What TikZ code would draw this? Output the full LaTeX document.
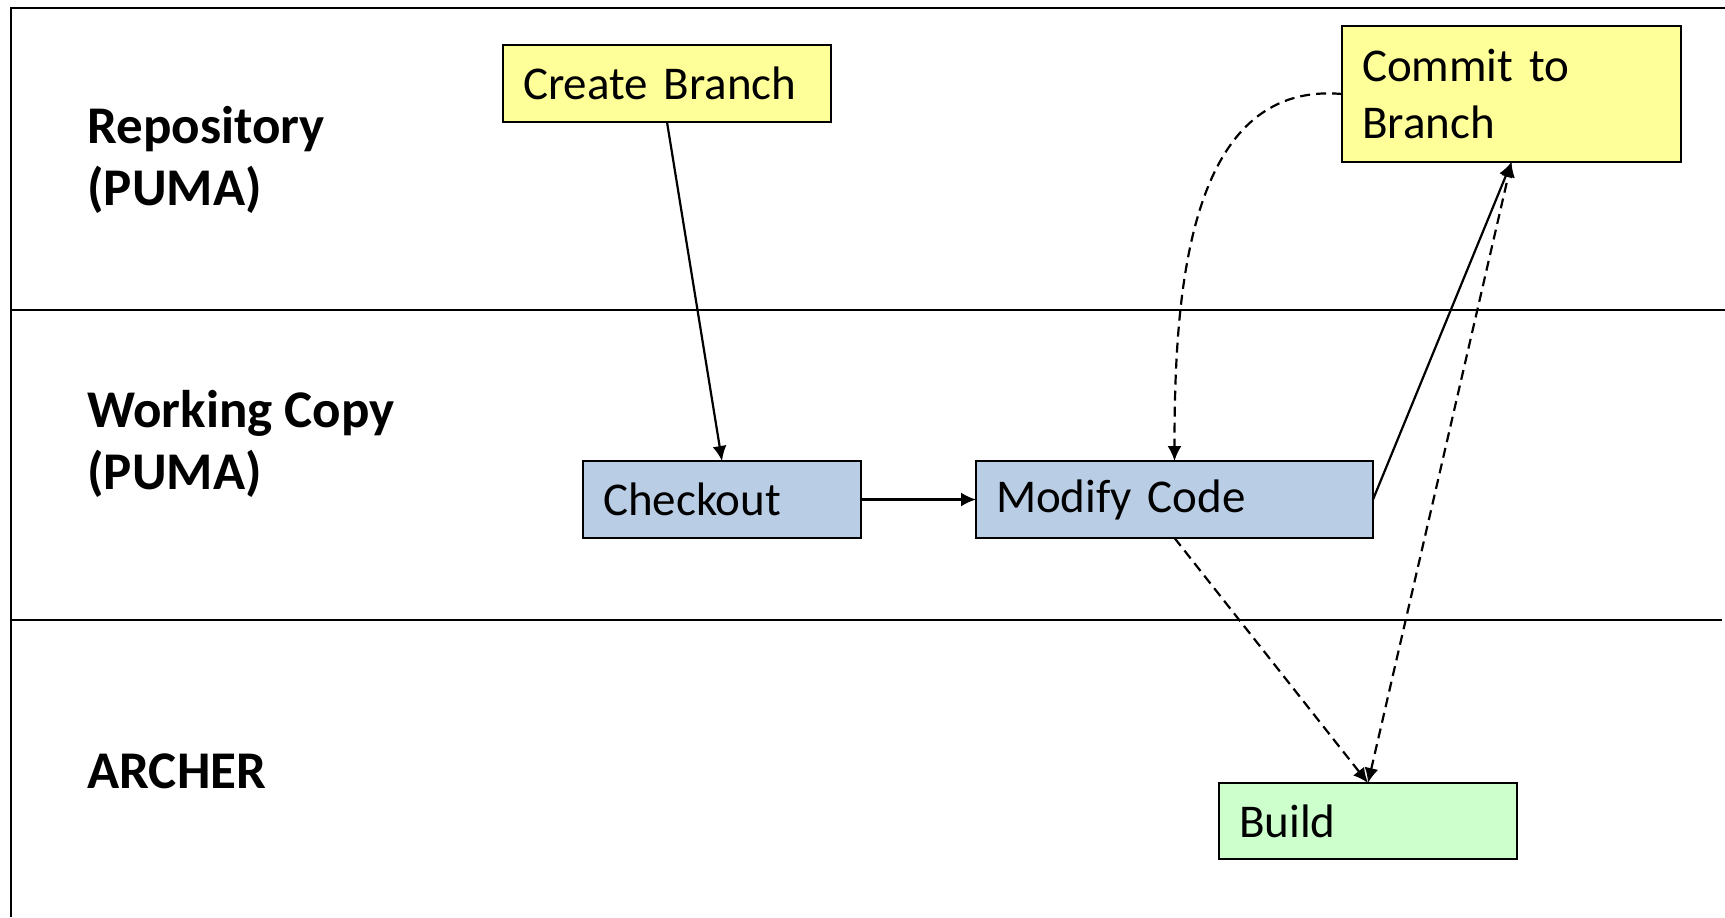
\documentclass[tikz,border=0pt]{standalone}
\usepackage{fontspec}
\setmainfont{Carlito}
\usetikzlibrary{arrows.meta}
\definecolor{boxyellow}{HTML}{FFFF99}
\definecolor{boxblue}{HTML}{B9CDE5}
\definecolor{boxgreen}{HTML}{CCFFCC}
\tikzset{
  stepbox/.style={draw=black, line width=0.9pt, anchor=north west, align=left,
    inner xsep=10pt, inner ysep=0pt, outer sep=0pt,
    font=\fontsize{23.5pt}{28.5pt}\selectfont},
  lanelabel/.style={anchor=west, align=left, inner sep=0pt,
    font=\fontsize{26.5pt}{31.4pt}\selectfont\bfseries},
  frameline/.style={line width=1pt, black},
  tip/.style={-{Latex[length=7.5pt,width=7pt]}},
  conn/.style={line width=1.1pt, tip},
  dconn/.style={conn, dash pattern=on 5pt off 3pt},
}
\begin{document}
\begin{tikzpicture}[x=0.5pt, y=-0.5pt]
\useasboundingbox (0,0) rectangle (1725,917);
% frame and lanes
\draw[frameline] (11,917) -- (11,7.5) -- (1725,7.5);
\draw[frameline] (11,310) -- (1725,310);
\draw[frameline] (11,620) -- (1722,620);
% lane labels
\node[lanelabel] (l1) at (87,160) {Repository\\(PUMA)};
\node[lanelabel] (l2) at (87,444) {Working Copy\\(PUMA)};
\node[lanelabel] (l3) at (87,771) {ARCHER};
% boxes
\node[stepbox, fill=boxyellow, text width=144pt, minimum height=38.5pt] (cb) at (503,45) {\raisebox{-1.5pt}{Create Branch}};
\node[stepbox, fill=boxyellow, text width=149.5pt, minimum height=68pt] (cm) at (1342,26) {Commit to\\Branch};
\node[stepbox, fill=boxblue, text width=119pt, minimum height=38.5pt] (co) at (583,461) {\raisebox{-1.5pt}{Checkout}};
\node[stepbox, fill=boxblue, text width=178.5pt, minimum height=38.5pt] (mc) at (976,461) {\raisebox{-1.5pt}{Modify Code}};
\node[stepbox, fill=boxgreen, text width=129pt, minimum height=38pt] (bu) at (1219,783) {\raisebox{-1.5pt}{Build}};
% connectors
\draw[conn] (cb.south) -- (co.north);
\draw[conn] (co.east) -- (mc.west);
\draw[conn] (mc.east) -- (cm.south);
\draw[dconn] (cm.west) to[out=175, in=90] (mc.north);
\draw[dconn] (mc.south) -- (bu.north);
\draw[dconn, {Latex[length=7.5pt,width=7pt]}-{Latex[length=7.5pt,width=7pt]}] (bu.north) -- (cm.south);
\end{tikzpicture}
\end{document}
